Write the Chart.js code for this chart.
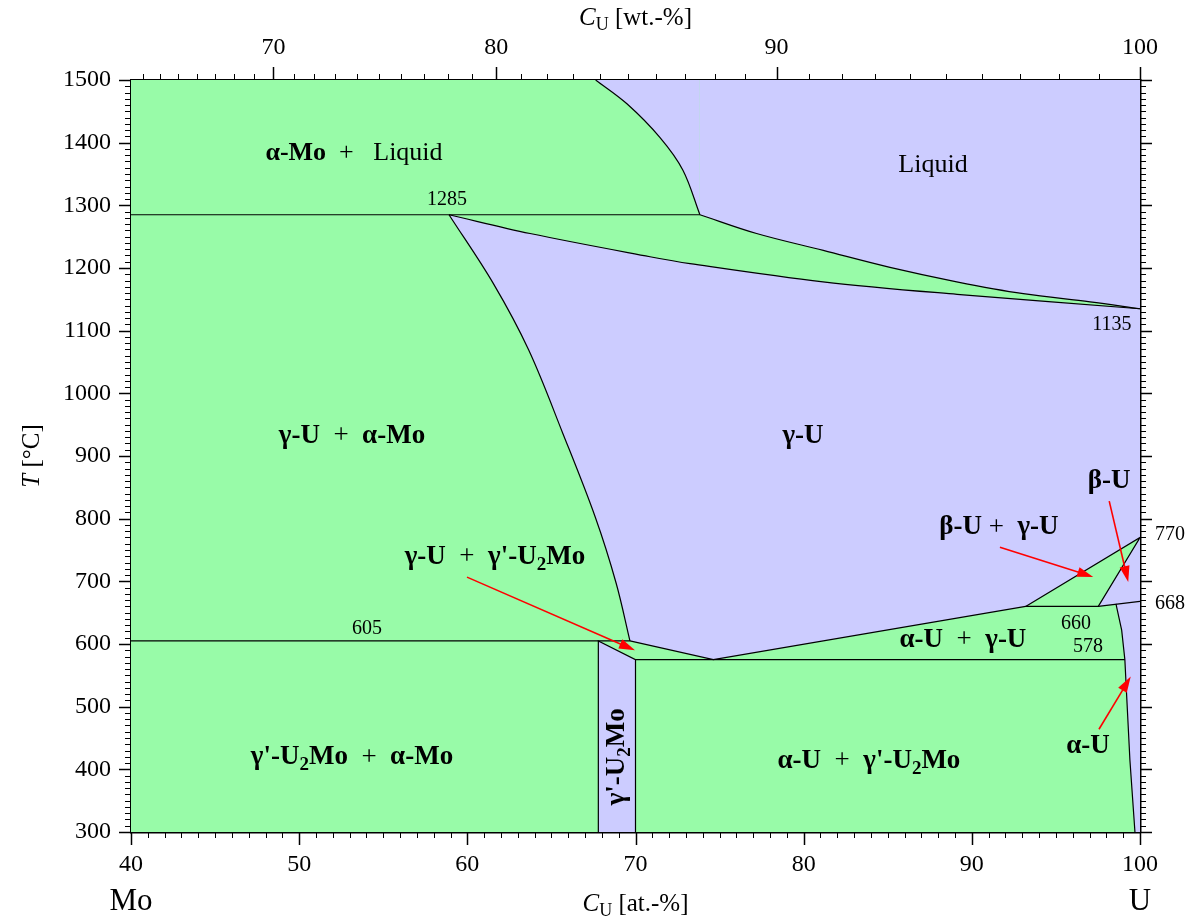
<!DOCTYPE html>
<html>
<head>
<meta charset="utf-8">
<script src="https://cdn.jsdelivr.net/npm/chart.js@4.4.1/dist/chart.umd.min.js"></script>
<style>
html, body { margin: 0; padding: 0; background: #fff; }
#wrap { width: 1194px; height: 922px; }
</style>
</head>
<body>
<div id="wrap"><canvas id="myChart"></canvas></div>
<script>
// U-Mo phase diagram, x in at.-% U, y in degC
var xRange = [40, 100];
var yRange = [300, 1500];
var wtTicks = [70, 80, 90, 100];

// boundaries
var liqMo = [[67.63, 1500], [69.49, 1462], [71.46, 1408], [72.82, 1356], [73.83, 1285]];
var liqUpper = [[73.83, 1285], [77.2, 1255], [81.17, 1228], [85.13, 1201], [89.1, 1178], [93.06, 1159], [97.03, 1146], [100, 1135]];
var solidus = [[58.91, 1285], [63.73, 1255], [70.86, 1218], [73.24, 1207], [81.15, 1178], [89.12, 1158], [100, 1135]];
var solvus = [[58.91, 1285], [61.55, 1175], [63.65, 1069], [65.68, 936], [67.6, 803], [68.85, 697], [69.67, 605]];
var line1285 = [[40, 1285], [73.83, 1285]];
var line605 = [[40, 605], [69.67, 605]];
var line578 = [[70.0, 575], [99.1, 575]];
var gammaPrimeEdge = [[67.79, 300], [67.79, 605], [70.0, 575], [70.0, 300]];
var gammaLow = [[69.67, 605], [74.63, 575], [93.2, 660], [97.52, 660], [100, 668]];
var betaGamma = [[93.2, 660], [100, 770], [97.52, 660]];
var alphaCurve = [[98.57, 664], [98.91, 622], [99.1, 575], [99.17, 537], [99.4, 415], [99.7, 300]];

var green = '#98fba8';
var blue = '#ccccff';

function wtToAt(w) {
    var u = w / 238.03, m = (100 - w) / 95.95;
    return 100 * u / (u + m);
}
function pts(a) {
    return a.map(function (p) { return {x: p[0], y: p[1]}; });
}
function closed(a) {
    return pts(a.concat([a[0]]));
}

// straight-edged polygons
var fieldPoly = [[40, 300], [100, 300], [100, 1500], [40, 1500]];
var lowerPoly = [[69.67, 605], [74.63, 575], [93.2, 660], [100, 770], [100, 300], [69.67, 300]];
var gammaPrimePoly = gammaPrimeEdge;
var betaPoly = [[97.52, 660], [100, 770], [100, 668]];
var alphaPoly = [[100, 668], [100, 300]].concat(alphaCurve.slice().reverse());

// fill layers, painted in this order
// [points, colour, fill mode, curved, closed]
var layers = [
    [fieldPoly, green, 'shape', false, true],
    [liqMo, blue, 'end', true, false],
    [liqUpper, blue, 'end', true, false],
    [solidus, blue, 'start', true, false],
    [solvus, green, 'start', true, false],
    [lowerPoly, green, 'shape', false, true],
    [gammaPrimePoly, blue, 'shape', false, true],
    [betaPoly, blue, 'shape', false, true],
    [alphaPoly, blue, 'shape', false, true]
];
var straightLines = [line1285, line605, gammaPrimeEdge, gammaLow, line578, betaGamma, alphaCurve];
var curvedLines = [liqMo, liqUpper, solidus, solvus];

// chart.js paints higher "order" first
var datasets = [];
var n = layers.length + straightLines.length + curvedLines.length;
function base(data, curved) {
    return {
        data: data,
        order: n--,
        showLine: true,
        pointRadius: 0,
        tension: curved ? 0.35 : 0,
        xAxisID: 'x',
        yAxisID: 'y'
    };
}
layers.forEach(function (l) {
    var d = base(l[4] ? closed(l[0]) : pts(l[0]), l[3]);
    d.fill = l[2];
    d.backgroundColor = l[1];
    d.borderWidth = 0;
    d.borderColor = 'rgba(0,0,0,0)';
    datasets.push(d);
});
straightLines.concat(curvedLines).forEach(function (l) {
    var d = base(pts(l), curvedLines.indexOf(l) >= 0);
    d.fill = false;
    d.borderColor = '#000';
    d.borderWidth = 1.2;
    datasets.push(d);
});

// labels placed in data coordinates
var regionLabels = [
    {x: 53.26, y: 1383, size: 26, parts: [['α-Mo', 'b'], ['  +   ', 'r'], ['Liquid', 'r']]},
    {x: 87.69, y: 1364, size: 26, parts: [['Liquid', 'r']]},
    {x: 53.14, y: 932, size: 27, parts: [['γ-U', 'b'], ['  +  ', 'r'], ['α-Mo', 'b']]},
    {x: 79.96, y: 932, size: 27, parts: [['γ-U', 'b']]},
    {x: 53.14, y: 419, size: 27, parts: [["γ'-U", 'b'], ['2', 'bs'], ['Mo', 'b'], ['  +  ', 'r'], ['α-Mo', 'b']]},
    {x: 83.88, y: 414, size: 27, parts: [['α-U', 'b'], ['  +  ', 'r'], ["γ'-U", 'b'], ['2', 'bs'], ['Mo', 'b']]},
    {x: 89.47, y: 606, size: 27, parts: [['α-U', 'b'], ['  +  ', 'r'], ['γ-U', 'b']]},
    {x: 61.64, y: 739, size: 27, parts: [['γ-U', 'b'], ['  +  ', 'r'], ["γ'-U", 'b'], ['2', 'bs'], ['Mo', 'b']]},
    {x: 91.61, y: 786, size: 27, parts: [['β-U', 'b'], [' +', 'r'], ['  γ-U', 'b']]},
    {x: 98.16, y: 860, size: 27, parts: [['β-U', 'b']]},
    {x: 96.91, y: 437, size: 27, parts: [['α-U', 'b']]},
    {x: 68.9, y: 420, size: 27, rot: true, parts: [["γ'-U", 'b'], ['2', 'bs'], ['Mo', 'b']]},
    {x: 58.79, y: 1309, size: 20, parts: [['1285', 'r']]},
    {x: 98.33, y: 1109, size: 20, parts: [['1135', 'r']]},
    {x: 54.03, y: 625, size: 20, parts: [['605', 'r']]},
    {x: 96.91, y: 596, size: 20, parts: [['578', 'r']]},
    {x: 96.19, y: 633, size: 20, parts: [['660', 'r']]},
    {x: 101.78, y: 774, size: 20, parts: [['770', 'r']]},
    {x: 101.78, y: 665, size: 20, parts: [['668', 'r']]}
];
var arrows = [
    [[59.98, 706.7], [69.97, 590]],
    [[91.67, 754.5], [97.22, 707]],
    [[98.17, 828], [99.3, 699]],
    [[97.56, 464], [99.45, 548]]
];

var FONT = '"Liberation Serif", "DejaVu Serif", serif';

function richText(ctx, parts, cx, cy, size) {
    var fonts = {
        r: size + 'px ' + FONT,
        b: 'bold ' + size + 'px ' + FONT,
        i: 'italic ' + size + 'px ' + FONT,
        bs: 'bold ' + Math.round(size * 0.7) + 'px ' + FONT,
        rs: Math.round(size * 0.7) + 'px ' + FONT
    };
    var total = 0;
    var w = parts.map(function (p) {
        ctx.font = fonts[p[1]];
        var m = ctx.measureText(p[0]).width;
        total += m;
        return m;
    });
    var x = cx - total / 2;
    ctx.textBaseline = 'middle';
    ctx.textAlign = 'left';
    parts.forEach(function (p, i) {
        ctx.font = fonts[p[1]];
        var dy = (p[1] === 'bs' || p[1] === 'rs') ? size * 0.3 : 0;
        ctx.fillText(p[0], x, cy + dy);
        x += w[i];
    });
}

function arrow(ctx, x1, y1, x2, y2) {
    var a = Math.atan2(y2 - y1, x2 - x1);
    var hl = 16, hw = 5;
    ctx.beginPath();
    ctx.moveTo(x1, y1);
    ctx.lineTo(x2 - hl * 0.8 * Math.cos(a), y2 - hl * 0.8 * Math.sin(a));
    ctx.stroke();
    ctx.beginPath();
    ctx.moveTo(x2, y2);
    ctx.lineTo(x2 - hl * Math.cos(a) + hw * Math.sin(a), y2 - hl * Math.sin(a) - hw * Math.cos(a));
    ctx.lineTo(x2 - hl * Math.cos(a) - hw * Math.sin(a), y2 - hl * Math.sin(a) + hw * Math.cos(a));
    ctx.closePath();
    ctx.fill();
}

var decor = {
    id: 'decor',
    afterDraw: function (chart) {
        var ctx = chart.ctx;
        var xs = chart.scales.x, ys = chart.scales.y;
        var area = chart.chartArea;
        ctx.save();
        ctx.strokeStyle = '#000';

        function seg(x1, y1, x2, y2, lw) {
            ctx.lineWidth = lw;
            ctx.beginPath();
            ctx.moveTo(x1, y1);
            ctx.lineTo(x2, y2);
            ctx.stroke();
        }
        // temperature ticks, left and right
        for (var t = yRange[0]; t <= yRange[1]; t += 10) {
            var py = Math.round(ys.getPixelForValue(t)) + 0.5;
            var major = t % 100 === 0;
            seg(area.left - (major ? 12 : 6), py, area.left, py, major ? 1.5 : 1);
            seg(area.right, py, area.right + (major ? 12 : 6), py, major ? 1.5 : 1);
        }
        // at.-% ticks bottom
        for (var a = xRange[0]; a <= xRange[1]; a += 1) {
            var px = Math.round(xs.getPixelForValue(a)) + 0.5;
            var maj = a % 10 === 0;
            seg(px, area.bottom, px, area.bottom + (maj ? 13 : 6), maj ? 1.5 : 1);
        }
        // wt.-% ticks top
        for (var w = 63; w <= 100; w += 1) {
            var qx = Math.round(xs.getPixelForValue(wtToAt(w))) + 0.5;
            var mj = w % 10 === 0;
            seg(qx, area.top - (mj ? 13 : 6), qx, area.top, mj ? 1.5 : 1);
        }

        // arrows
        ctx.strokeStyle = '#f00';
        ctx.fillStyle = '#f00';
        ctx.lineWidth = 1.6;
        arrows.forEach(function (ar) {
            arrow(ctx, xs.getPixelForValue(ar[0][0]), ys.getPixelForValue(ar[0][1]),
                xs.getPixelForValue(ar[1][0]), ys.getPixelForValue(ar[1][1]));
        });

        // region labels
        ctx.fillStyle = '#000';
        regionLabels.forEach(function (l) {
            var lx = xs.getPixelForValue(l.x), ly = ys.getPixelForValue(l.y);
            if (l.rot) {
                ctx.save();
                ctx.translate(lx, ly);
                ctx.rotate(-Math.PI / 2);
                richText(ctx, l.parts, 0, 0, l.size);
                ctx.restore();
            } else {
                richText(ctx, l.parts, lx, ly, l.size);
            }
        });

        // axis titles
        var cx = (area.left + area.right) / 2;
        richText(ctx, [['C', 'i'], ['U', 'rs'], [' [wt.-%]', 'r']], cx, 18, 25);
        richText(ctx, [['C', 'i'], ['U', 'rs'], [' [at.-%]', 'r']], cx, 904, 25);
        richText(ctx, [['Mo', 'r']], area.left, 902, 31);
        richText(ctx, [['U', 'r']], area.right, 902, 31);
        ctx.save();
        ctx.translate(32, (area.top + area.bottom) / 2);
        ctx.rotate(-Math.PI / 2);
        richText(ctx, [['T', 'i'], [' [°C]', 'r']], 0, 0, 25);
        ctx.restore();
        ctx.restore();
    }
};

var tickFont = {family: FONT, size: 24};
function plain(v) { return String(v); }

new Chart('myChart', {
    type: 'scatter',
    data: {datasets: datasets},
    options: {
        responsive: true,
        maintainAspectRatio: false,
        animation: false,
        devicePixelRatio: 1,
        layout: {padding: 0},
        plugins: {legend: {display: false}, tooltip: {enabled: false}},
        scales: {
            x: {
                type: 'linear', position: 'bottom', min: xRange[0], max: xRange[1],
                ticks: {stepSize: 10, font: tickFont, color: '#000', padding: 18, maxRotation: 0, callback: plain},
                grid: {drawOnChartArea: false, drawTicks: false},
                border: {color: '#000', width: 2.5},
                afterFit: function (s) { s.height = 90; }
            },
            x2: {
                type: 'linear', position: 'top', min: xRange[0], max: xRange[1],
                afterBuildTicks: function (s) {
                    s.ticks = wtTicks.map(function (w) { return {value: wtToAt(w)}; });
                },
                ticks: {
                    font: tickFont, color: '#000', padding: 18, autoSkip: false, maxRotation: 0,
                    callback: function (v, i) { return String(wtTicks[i]); }
                },
                grid: {drawOnChartArea: false, drawTicks: false},
                border: {color: '#000', width: 2.5},
                afterFit: function (s) { s.height = 80; }
            },
            y: {
                type: 'linear', position: 'left', min: yRange[0], max: yRange[1],
                ticks: {stepSize: 100, font: tickFont, color: '#000', padding: 20, callback: plain},
                grid: {drawOnChartArea: false, drawTicks: false},
                border: {color: '#000', width: 2.5},
                afterFit: function (s) { s.width = 131; }
            },
            y2: {
                type: 'linear', position: 'right', min: yRange[0], max: yRange[1],
                ticks: {display: false},
                grid: {drawOnChartArea: false, drawTicks: false},
                border: {color: '#000', width: 2.5},
                afterFit: function (s) { s.width = 54; }
            }
        }
    },
    plugins: [decor]
});
</script>
</body>
</html>
